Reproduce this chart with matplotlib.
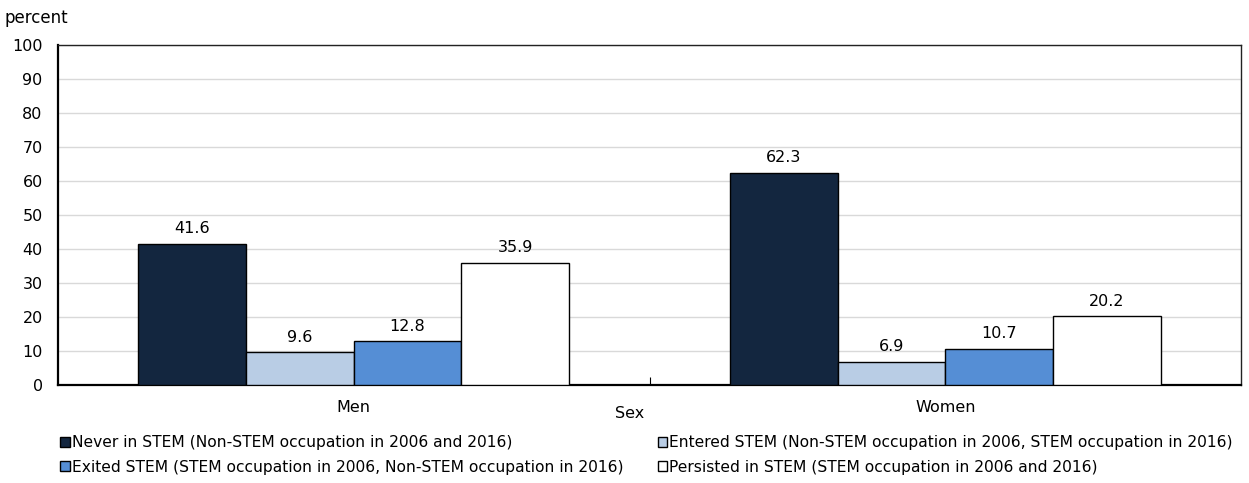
import numpy as np
import matplotlib
matplotlib.use("Agg")
import matplotlib.pyplot as plt

# data
sexes = ["Men", "Women"]
series = ["Never in STEM (Non-STEM occupation in 2006 and 2016)",
          "Entered STEM (Non-STEM occupation in 2006, STEM occupation in 2016)",
          "Exited STEM (STEM occupation in 2006, Non-STEM occupation in 2016)",
          "Persisted in STEM (STEM occupation in 2006 and 2016)"]
never = [41.6, 62.3]
entered = [9.6, 6.9]
exited = [12.8, 10.7]
persisted = [35.9, 20.2]
colors = ["#13263f", "#b9cde5", "#558ed5", "#ffffff"]
yticks = list(range(0, 101, 10))

FS = 11.5
plt.rcParams['font.family'] = ['DejaVu Sans']
plt.rcParams['font.size'] = FS

fig = plt.figure(figsize=(12.49, 4.83), dpi=100)
ax = fig.add_axes([58 / 1249, 1 - 385 / 483, (1241 - 58) / 1249, 340 / 483])

x = np.arange(len(sexes))
w = 0.182
vals = [never, entered, exited, persisted]
for i, (name, v, c) in enumerate(zip(series, vals, colors)):
    pos = x + (i - 1.5) * w
    bars = ax.bar(pos, v, w, color=c, edgecolor="black", linewidth=1.0,
                  label=name, zorder=3)
    for b, val in zip(bars, v):
        ax.text(b.get_x() + b.get_width() / 2, val + 2.3, "{:.1f}".format(val),
                ha="center", va="bottom", fontsize=FS)

ax.set_xlim(-0.5, 1.5)
ax.set_ylim(0, 100)
ax.set_yticks(yticks)
ax.yaxis.grid(True, color="#d9d9d9", linewidth=1, zorder=0)
ax.tick_params(axis="y", length=0, pad=11)
ax.set_xticks(x)
ax.set_xticklabels(sexes)
ax.tick_params(axis="x", length=0, pad=11)
ax.set_xticks([0.5], minor=True)
ax.tick_params(axis="x", which="minor", direction="in", length=6, width=0.8)
for s in ["left", "bottom"]:
    ax.spines[s].set_linewidth(1.6)
for s in ["top", "right"]:
    ax.spines[s].set_linewidth(1.0)
    ax.spines[s].set_color("#222222")

fig.text(630 / 1249, 1 - 413 / 483, "Sex", ha="center", va="center", fontsize=FS)
fig.text(5 / 1249, 1 - 18 / 483, "percent", ha="left", va="center", fontsize=FS + 0.5)

handles, labels = ax.get_legend_handles_labels()
order = [0, 2, 1, 3]
fig.legend([handles[k] for k in order], [labels[k] for k in order], ncol=2,
           loc="upper left", bbox_to_anchor=(54 / 1249, 1 - 429 / 483),
           frameon=False, handlelength=0.6, handleheight=0.6, handletextpad=0.15,
           columnspacing=2.2, labelspacing=0.6, borderaxespad=0, fontsize=11.2)

fig.savefig("out.png", dpi=100)
